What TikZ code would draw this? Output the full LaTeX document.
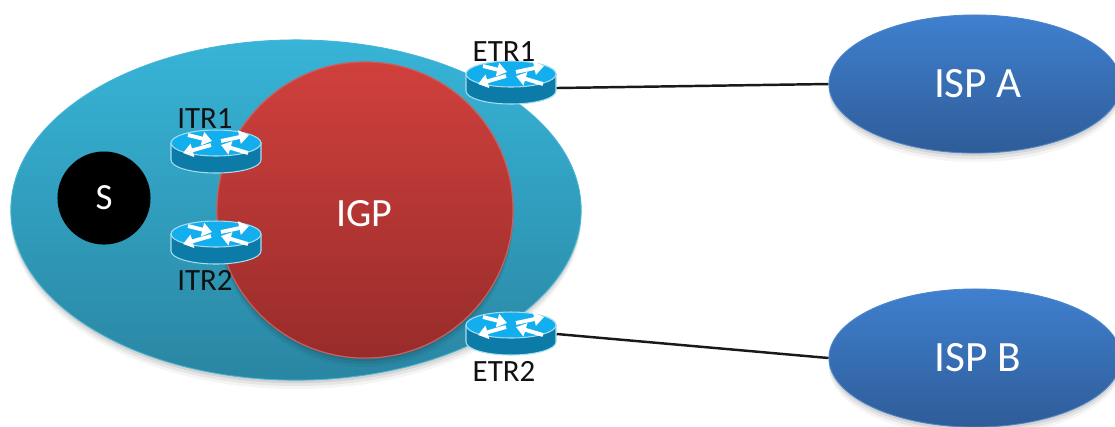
\documentclass[tikz,border=0pt]{standalone}
\usepackage{fontspec}
\setmainfont{Carlito}
\usetikzlibrary{shapes.geometric,shadows,arrows.meta}
\definecolor{tealtop}{HTML}{37B4D7}
\definecolor{tealbot}{HTML}{2A86A2}
\definecolor{tealedge}{HTML}{46B6D6}
\definecolor{redtop}{HTML}{D0403D}
\definecolor{redbot}{HTML}{982C2A}
\definecolor{rededge}{HTML}{C9605E}
\definecolor{bluetop}{HTML}{3F80CF}
\definecolor{bluebot}{HTML}{2F5C98}
\definecolor{blueedge}{HTML}{4A86CC}
\definecolor{rtop}{HTML}{12AEEE}
\definecolor{rbody}{HTML}{0C7BA8}
\definecolor{redge}{HTML}{A5DDF0}
\definecolor{labelink}{HTML}{111111}
\tikzset{
  softshadow/.style={
    general shadow={fill=black,opacity=.04,shadow yshift=-0.09cm,shadow xshift=0cm},
    general shadow={fill=black,opacity=.06,shadow yshift=-0.06cm,shadow xshift=0cm},
    general shadow={fill=black,opacity=.08,shadow yshift=-0.03cm,shadow xshift=0cm}},
  blob/.style={ellipse,inner sep=0pt,line width=.25pt,softshadow},
  sitearea/.style={blob,minimum width=5.70cm,minimum height=3.40cm,draw=tealedge,top color=tealtop,bottom color=tealbot},
  igparea/.style={circle,inner sep=0pt,line width=.35pt,minimum size=2.96cm,draw=rededge,top color=redtop,bottom color=redbot,softshadow,text=white,font=\fontsize{11.4}{13}\selectfont},
  isparea/.style={blob,minimum width=2.92cm,minimum height=1.38cm,draw=blueedge,top color=bluetop,bottom color=bluebot,text=white,font=\fontsize{12.3}{14}\selectfont},
  hostdot/.style={circle,inner sep=0pt,minimum size=.93cm,fill=black,text=white,font=\fontsize{10.5}{12}\selectfont},
  routerbox/.style={rectangle,inner sep=0pt,minimum width=.90cm,minimum height=.43cm},
  routertag/.style={inner sep=0pt,text=labelink,font=\fontsize{8.8}{10}\selectfont},
  uplink/.style={draw=black!90,line width=.7pt},
  rarrow/.style={white,line width=1.1pt,-{Triangle[length=2.8pt,width=3.8pt]}}
}
\newcommand{\routerat}[3]{%
  \node[routerbox] (#1) at (#2,#3) {};
  \begin{scope}[shift={(#1.center)}]
    \fill[rbody,draw=redge,line width=.3pt]
      (-45,-9) -- (-45,8) arc[x radius=45,y radius=13,start angle=180,end angle=0]
      -- (45,-9) -- cycle;
    \fill[rtop,draw=redge,line width=.3pt] (0,-9) ellipse[x radius=45,y radius=13];
    \draw[rarrow] (-28,-17) -- (-4,-11);
    \draw[rarrow] (5,-11) -- (33,-17);
    \draw[rarrow] (-5,-7) -- (-33,1);
    \draw[rarrow] (32,1) -- (5,-7);
  \end{scope}}
\begin{document}
\begin{tikzpicture}[x=0.01cm,y=-0.01cm]
\useasboundingbox (0,0) rectangle (1115,426);
\fill[white] (0,0) rectangle (1115,426);
\node[sitearea] (site) at (296,210) {};
\node[igparea,text depth=0pt] (igp) at (365,210) {\raisebox{-2pt}{\kern-.5pt IGP}};
\node[hostdot] (s) at (104,198) {\raisebox{-.6pt}{S}};
\node[isparea] (ispa) at (975,84) {\kern1.7pt ISP A};
\node[isparea] (ispb) at (975,358) {\kern1.7pt ISP B};
\routerat{itr1}{216}{152}
\routerat{itr2}{216}{243}
\routerat{etr1}{511}{83}
\routerat{etr2}{511}{334}
\draw[uplink] ([yshift=-0.05cm]etr1.east) -- (ispa.west);
\draw[uplink] (etr2.east) -- (ispb.west);
\node[routertag] (itr1t) at (205,119) {ITR1};
\node[routertag] (itr2t) at (205,280) {ITR2};
\node[routertag] (etr1t) at (504,52) {ETR1};
\node[routertag] (etr2t) at (504,371) {ETR2};
\end{tikzpicture}
\end{document}
